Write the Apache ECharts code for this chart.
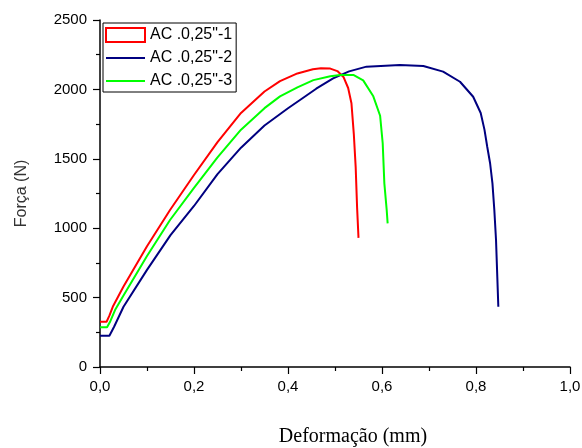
<!DOCTYPE html>
<html>
<head>
<meta charset="utf-8">
<script src="https://cdn.jsdelivr.net/npm/echarts@6/dist/echarts.min.js"></script>
<style>html,body{margin:0;padding:0;background:#fff;}#c{width:582px;height:448px;}</style>
</head>
<body>
<div id="c"></div>
<script>
const seriesNames = ['AC .0,25"-1', 'AC .0,25"-2', 'AC .0,25"-3'];
const seriesColors = ['#FF0000', '#000080', '#00FF00'];
const xTicks = ['0,0', '0,2', '0,4', '0,6', '0,8', '1,0'];
const yTicks = [0, 500, 1000, 1500, 2000, 2500];

const red = [[0,326],[0.014,326],[0.02,370],[0.028,440],[0.05,580],[0.1,870],[0.149,1131],[0.2,1383],[0.25,1620],[0.3,1830],[0.35,1985],[0.383,2060],[0.42,2115],[0.453,2145],[0.47,2152],[0.49,2150],[0.505,2132],[0.518,2090],[0.528,2010],[0.535,1900],[0.540,1680],[0.544,1440],[0.547,1150],[0.55,930]];
const blue = [[0,225],[0.02,225],[0.03,290],[0.05,434],[0.1,700],[0.15,950],[0.2,1160],[0.25,1390],[0.3,1580],[0.35,1740],[0.4,1864],[0.4255,1924],[0.46,2005],[0.496,2080],[0.53,2130],[0.567,2164],[0.638,2176],[0.688,2169],[0.73,2128],[0.766,2055],[0.794,1947],[0.81,1830],[0.818,1710],[0.824,1585],[0.83,1468],[0.835,1323],[0.839,1131],[0.8426,915],[0.8453,651],[0.8475,434]];
const green = [[0,286],[0.015,286],[0.022,330],[0.032,410],[0.05,515],[0.1,800],[0.149,1059],[0.2,1290],[0.25,1510],[0.3,1710],[0.35,1865],[0.383,1950],[0.42,2015],[0.454,2067],[0.49,2095],[0.511,2104],[0.539,2104],[0.56,2065],[0.5815,1950],[0.596,1810],[0.6015,1612],[0.605,1323],[0.61,1131],[0.612,1035]];

const dataSets = [red, blue, green];
const chart = echarts.init(document.getElementById('c'), null, {renderer: 'canvas'});
chart.setOption({
  animation: false,
  backgroundColor: '#fff',
  grid: {left: 100, right: 12, top: 20, bottom: 81, containLabel: false, outerBoundsMode: 'none'},
  legend: {
    orient: 'vertical', left: 103, top: 23,
    borderColor: '#000', borderWidth: 1, padding: [4, 4, 3, 2],
    itemWidth: 39, itemHeight: 14, itemGap: 7,
    textStyle: {fontFamily: 'Liberation Sans, Arial', fontSize: 16, color: '#000'},
    data: [
      {name: seriesNames[0], icon: 'rect', itemStyle: {color: 'rgba(0,0,0,0)', borderColor: seriesColors[0], borderWidth: 2}},
      {name: seriesNames[1], itemStyle: {opacity: 0}},
      {name: seriesNames[2], itemStyle: {opacity: 0}}
    ]
  },
  xAxis: {
    type: 'value', min: 0, max: 1, interval: 0.2,
    name: 'Deformação (mm)', nameLocation: 'middle', nameGap: 60,
    nameTextStyle: {fontFamily: 'Liberation Serif, Times New Roman', fontSize: 20, color: '#000', padding: [0,0,0,36]},
    axisLine: {show: true, lineStyle: {color: '#000', width: 1.5}},
    axisTick: {show: true, length: 7, lineStyle: {color: '#000', width: 1.2}},
    minorTick: {show: true, splitNumber: 2, length: 4, lineStyle: {color: '#000', width: 1.2}},
    splitLine: {show: false},
    axisLabel: {margin: 12, fontFamily: 'Liberation Sans, Arial', fontSize: 15, color: '#000',
      formatter: function (v) { return xTicks[Math.round(v / 0.2)]; }}
  },
  yAxis: {
    type: 'value', min: 0, max: 2500, interval: 500,
    name: 'Força (N)', nameLocation: 'middle', nameGap: 70,
    nameTextStyle: {fontFamily: 'Liberation Sans, Arial', fontSize: 16, color: '#333'},
    axisLine: {show: true, lineStyle: {color: '#000', width: 1.5}},
    axisTick: {show: true, length: 7, lineStyle: {color: '#000', width: 1.2}},
    minorTick: {show: true, splitNumber: 2, length: 4, lineStyle: {color: '#000', width: 1.2}},
    splitLine: {show: false},
    axisLabel: {margin: 13, fontFamily: 'Liberation Sans, Arial', fontSize: 15, color: '#000',
      formatter: function (v) { return String(yTicks[Math.round(v / 500)]); }}
  },
  series: dataSets.map(function (d, i) {
    return {
      name: seriesNames[i], type: 'line', data: d, showSymbol: false, symbol: 'none',
      lineStyle: {color: seriesColors[i], width: 2}, itemStyle: {color: seriesColors[i]}
    };
  })
});
</script>
</body>
</html>
